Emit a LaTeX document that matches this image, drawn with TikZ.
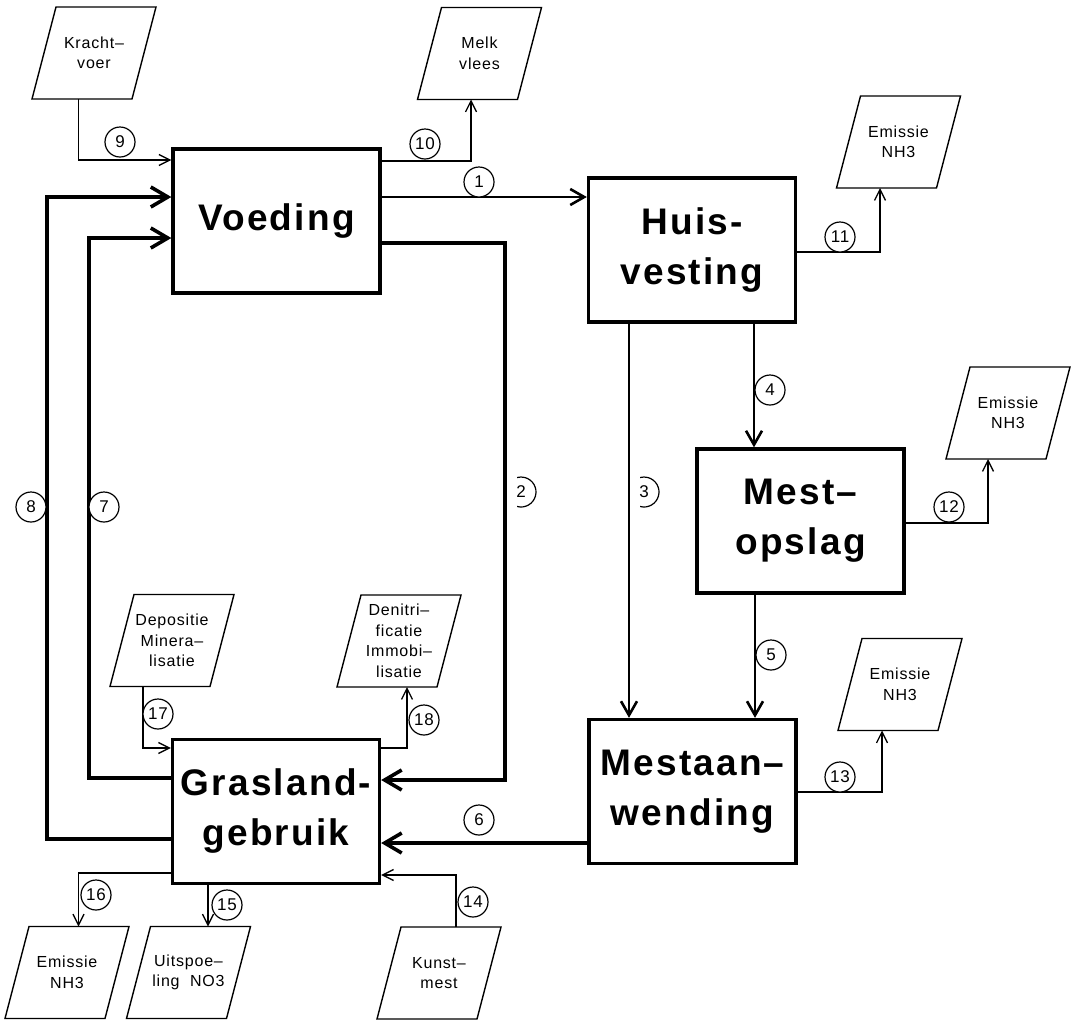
\documentclass[tikz,border=0pt]{standalone}
\usepackage{fontspec}
\setmainfont{Liberation Sans}
\newfontfamily\boxfont{Liberation Sans}[LetterSpace=6]
\newfontfamily\smallfont{Liberation Sans}[LetterSpace=5]
\usetikzlibrary{arrows.meta,calc}
\tikzset{
 mainbox/.style={draw, line width=3.3pt, minimum width=207pt, minimum height=144pt, inner sep=0pt, align=center, font=\boxfont\bfseries\fontsize{37}{50}\selectfont},
 pnode/.style={minimum width=100pt, minimum height=92pt, inner sep=0pt, outer sep=0pt, align=center, font=\smallfont\fontsize{16}{20.5}\selectfont},
 pline/.style={line width=1.4pt, line join=miter},
 num/.style={circle, draw, line width=1.2pt, minimum size=30pt, inner sep=0pt, fill=white, font=\smallfont\fontsize{17}{17}\selectfont},
 numopen/.style={circle, minimum size=30pt, inner sep=0pt, font=\smallfont\fontsize{17}{17}\selectfont},
 thinflow/.style={line width=1.3pt, -{Straight Barb[length=11pt,width=11pt]}},
 medflow/.style={line width=2.6pt, -{Straight Barb[length=14pt,width=16pt]}},
 thickflow/.style={line width=3.6pt, -{Straight Barb[length=17pt,width=20pt]}},
}
\newcommand{\pgm}[4]{%
 \node[pnode] (#1) at (#2,#3) {#4};
 \draw[pline] ([xshift=-38pt]#1.north) -- ([xshift=62pt]#1.north) -- ([xshift=38pt]#1.south) -- ([xshift=-62pt]#1.south) -- cycle;}
\begin{document}
\begin{tikzpicture}[x=1pt,y=-1pt]
\useasboundingbox (0,0) rectangle (1074,1021);
% main boxes
\node[mainbox] (voed) at (276.5,221) {Voeding};
\node[mainbox] (huis) at (692,250) {Huis-\\vesting};
\node[mainbox] (mesto) at (800.5,521) {Mest–\\opslag};
\node[mainbox] (mesta) at (692.5,791.5) {Mestaan–\\wending};
\node[mainbox] (gras) at (276,811.5) {Grasland-\\gebruik};
% parallelograms
\pgm{kv}{94}{53}{Kracht–\\voer}
\pgm{mv}{479.5}{53.5}{Melk\\vlees}
\pgm{eA}{898.5}{142}{Emissie\\NH3}
\pgm{eB}{1008}{413}{Emissie\\NH3}
\pgm{eC}{900}{684.5}{Emissie\\NH3}
\pgm{dep}{172}{640.5}{Depositie\\Minera–\\lisatie}
\pgm{den}{399}{641}{Denitri–\\ficatie\\Immobi–\\lisatie}
\pgm{eD}{67}{972.5}{Emissie\\NH3}
\pgm{uit}{188.5}{972.5}{Uitspoe–\\ling\ \ NO3}
\pgm{kun}{439}{973}{Kunst–\\mest}
% connectors
\draw[medflow] (voed.east |- 0,197) -- (huis.west |- 0,197);
\draw[thickflow] (voed.east |- 0,243) -| (505,780) -- (gras.east |- 0,780);
\draw[medflow] (huis.south -| 629,0) -- (mesta.north -| 629,0);
\draw[medflow] (huis.south -| 754,0) -- (mesto.north -| 754,0);
\draw[medflow] (mesto.south -| 755,0) -- (mesta.north -| 755,0);
\draw[thickflow] (mesta.west |- 0,843) -- (gras.east |- 0,843);
\draw[thickflow] (gras.west |- 0,778) -| (89,238) -- (voed.west |- 0,238);
\draw[thickflow] (gras.west |- 0,839) -| (47,197) -- (voed.west |- 0,197);
\draw[thinflow] (kv.south -| 78.5,0) |- (voed.west |- 0,160);
\draw[thinflow] (voed.east |- 0,161) -| (mv.south -| 471,0);
\draw[thinflow] (huis.east |- 0,252) -| (eA.south -| 880,0);
\draw[thinflow] (mesto.east |- 0,523) -| (eB.south -| 988,0);
\draw[thinflow] (mesta.east |- 0,792) -| (eC.south -| 882,0);
\draw[thinflow] (kun.north -| 456,0) |- (gras.east |- 0,875);
\draw[thinflow] (gras.south -| 208,0) -- (uit.north -| 208,0);
\draw[thinflow] (gras.west |- 0,873) -| (eD.north -| 78.5,0);
\draw[thinflow] (dep.south -| 143,0) |- (gras.west |- 0,748);
\draw[thinflow] (gras.east |- 0,748) -| (den.south -| 407,0);
% numbers
\node[num] (n1) at (479,182) {1};
\node[numopen] (n2) at (521,492) {2};
\draw[line width=1.2pt] ([shift={(105:15)}]n2.center) arc[start angle=105,end angle=-105,radius=15];
\node[numopen] (n3) at (644,492) {3};
\draw[line width=1.2pt] ([shift={(105:15)}]n3.center) arc[start angle=105,end angle=-105,radius=15];
\node[num] (n4) at (770,390) {4};
\node[num] (n5) at (771,655) {5};
\node[num] (n6) at (479,820) {6};
\node[num] (n7) at (104,507) {7};
\node[num] (n8) at (31,507) {8};
\node[num] (n9) at (120,142) {9};
\node[num] (n10) at (425,144) {10};
\node[num] (n11) at (840,237) {11};
\node[num] (n12) at (949,507) {12};
\node[num] (n13) at (840,777) {13};
\node[num] (n14) at (473,902) {14};
\node[num] (n15) at (227,905) {15};
\node[num] (n16) at (96,895) {16};
\node[num] (n17) at (158,714) {17};
\node[num] (n18) at (424,720) {18};
\end{tikzpicture}
\end{document}
